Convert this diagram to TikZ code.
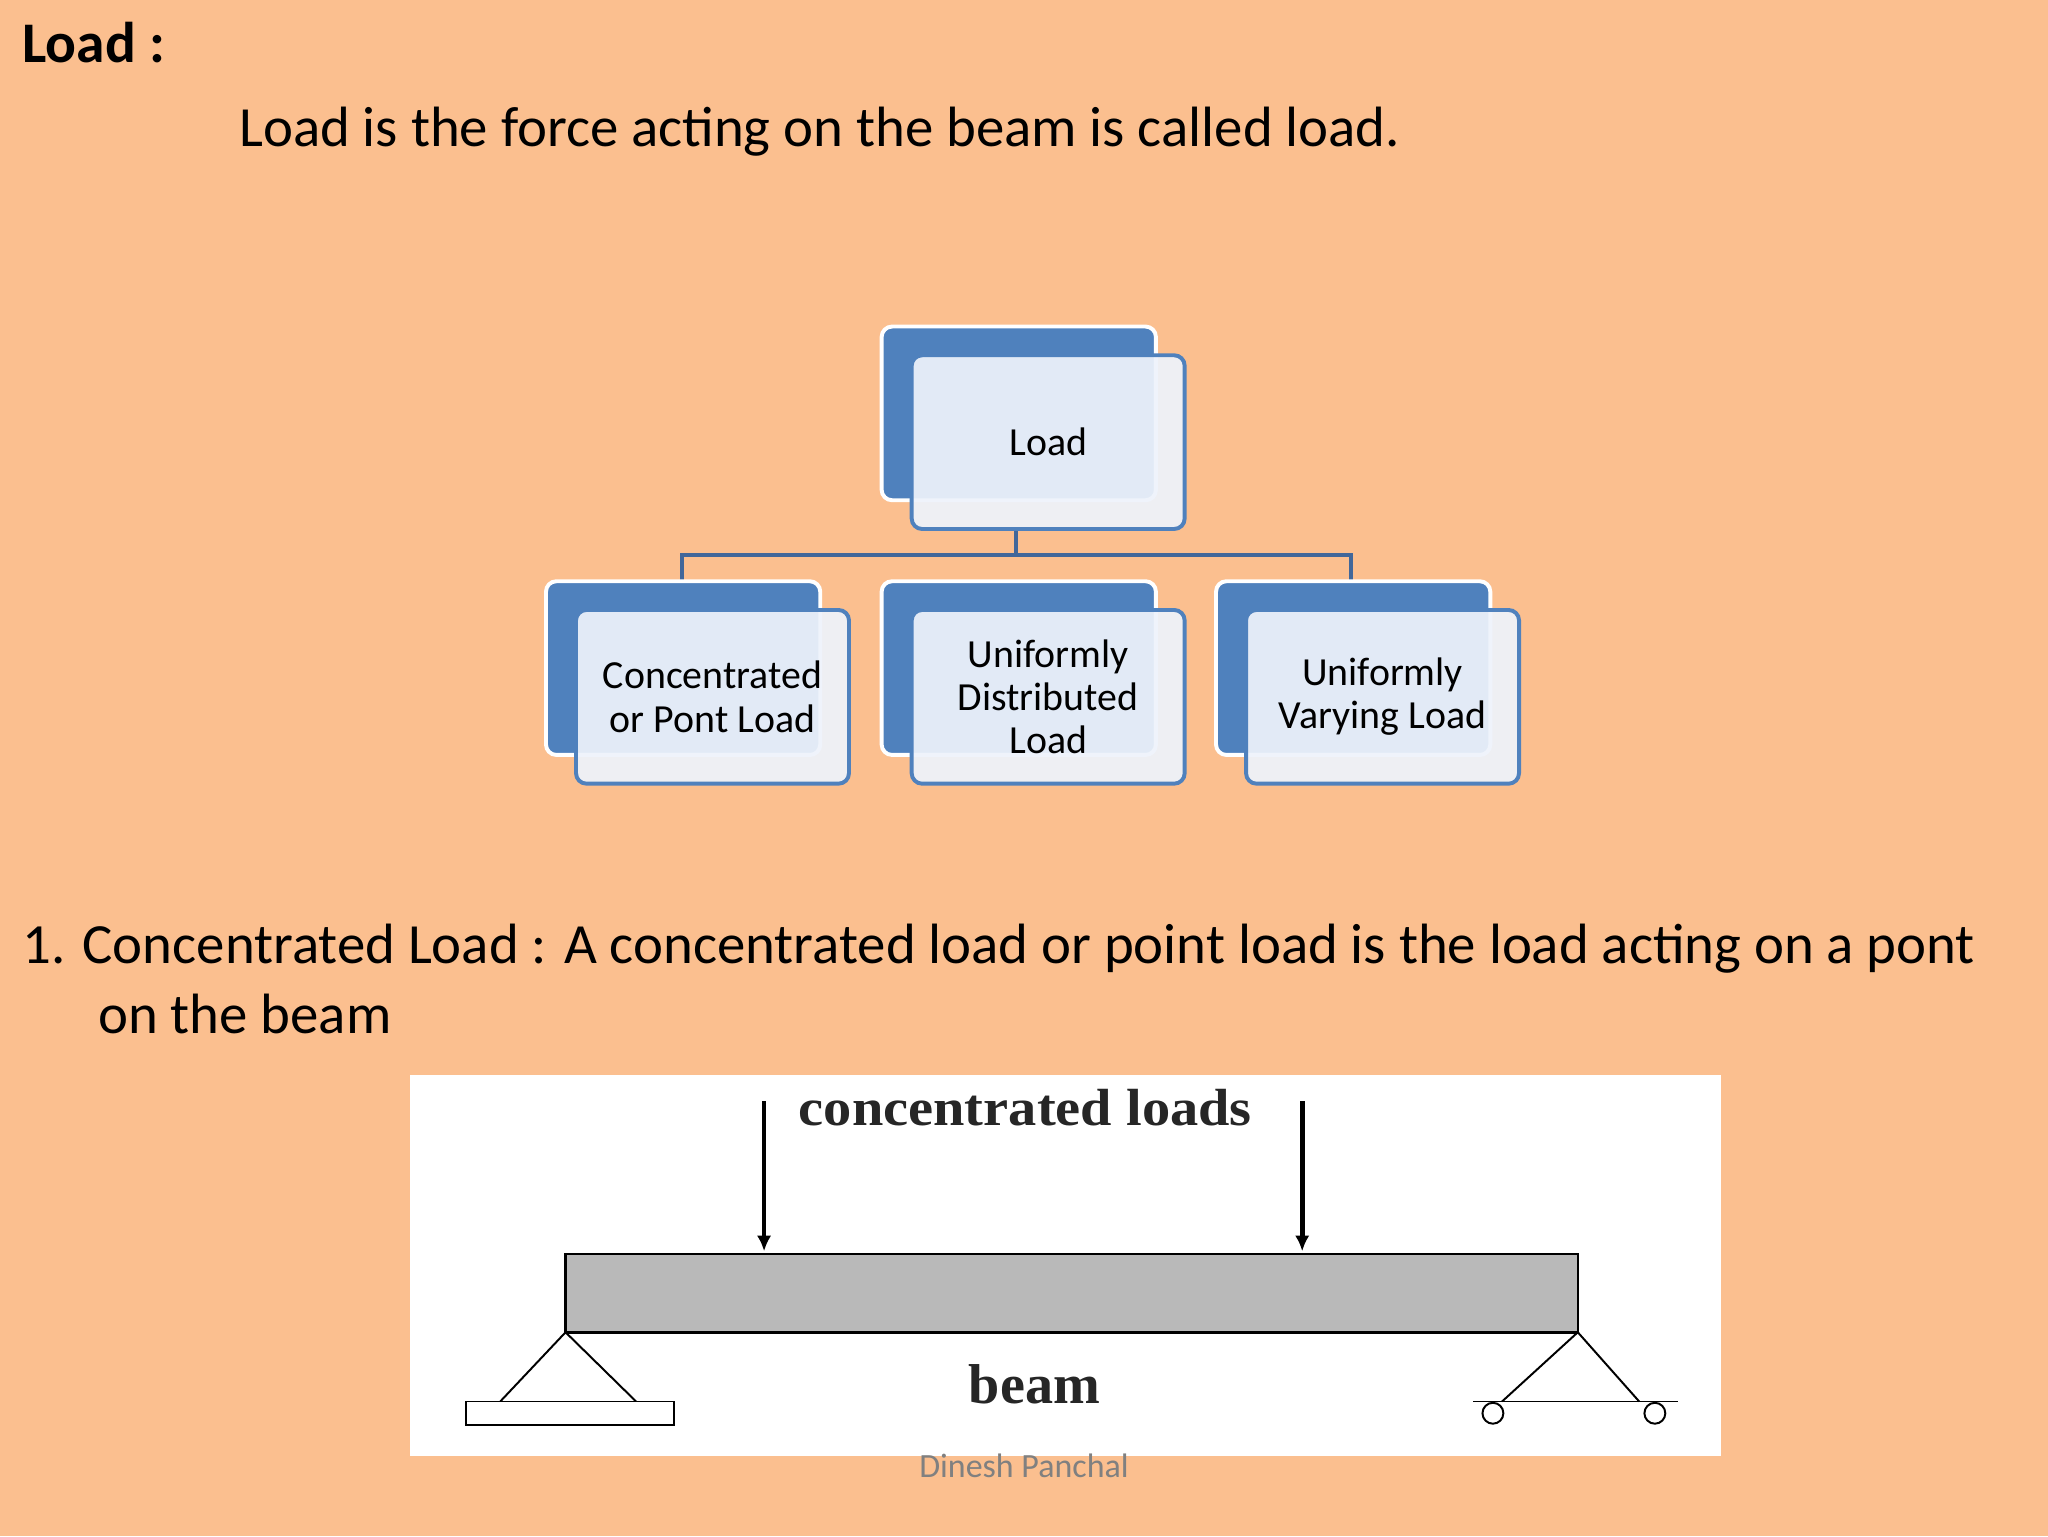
\documentclass[tikz,border=0pt]{standalone}
\usepackage{fontspec}
\setmainfont{Carlito}
\newfontfamily\serifb{Liberation Serif}
\usetikzlibrary{arrows.meta}
\begin{document}
\begin{tikzpicture}[x=1pt,y=-1pt,
  back/.style={fill=blue1,draw=white,line width=3pt,rounded corners=8pt},
  front/.style={fill=boxfill,fill opacity=0.93,draw=blue1,line width=3pt,rounded corners=8pt,text opacity=1,align=center,font=\fontsize{30.5}{33}\selectfont},
  conn/.style={draw=blue2,line width=3pt},
  body/.style={anchor=base west,font=\fontsize{43.5}{48}\selectfont,inner sep=0},
  arr/.style={line width=3.5pt,-{Latex[length=12pt,width=11pt]}}]
\definecolor{bg}{HTML}{FBBF8F}
\definecolor{blue1}{HTML}{4F81BD}
\definecolor{blue2}{HTML}{41679A}
\definecolor{boxfill}{HTML}{EEF3FB}
\fill[bg] (0,0) rectangle (1568,1176);
\useasboundingbox (0,0) rectangle (1568,1176);
\node[anchor=base west,inner sep=0,font=\fontsize{44}{48}\selectfont\bfseries] (t) at (17,48) {Load :};
\node[body] (d) at (183,112) {Load is the force acting on the beam is called load.};
% connectors
\coordinate (j) at (778,425);
\draw[conn] (778,405) -- (j);
\draw[conn] (522,445) -- (522,425) -- (1034,425) -- (1034,445);
% boxes
\foreach \x/\y/\n/\t in {675/250/r/Load,418/445/a/{Concentrated\\or Pont Load},675/445/b/{Uniformly\\Distributed\\Load},931/445/c/{Uniformly\\Varying Load}}{
  \draw[back] (\x,\y) rectangle ++(210,133);
  \node[front,minimum width=209pt,minimum height=133pt,inner sep=0] (\n) at (\x+23+104.5,\y+22+66.5) {\t};
}
\node[body] (c1) at (17,738) {1. Concentrated Load : A concentrated load or point load is the load acting on a pont};
\node[body] (c2) at (75,791) {on the beam};
% beam figure
\fill[white] (314,823) rectangle (1318,1115);
\draw[fill=gray!55,line width=2pt] (433,960) rectangle (1208,1020);
\draw[arr] (585,843) -- (585,958);
\draw[arr] (997,843) -- (997,958);
\node[font=\serifb\bfseries\fontsize{40}{44}\selectfont,text=black!85,xscale=1.08] (cl) at (785,848) {concentrated loads};
\node[font=\serifb\bfseries\fontsize{43}{46}\selectfont,text=black!85] (bm) at (792,1060) {beam};
\draw[line width=1.5pt] (383,1073) -- (433,1020) -- (487,1073);
\draw[line width=1.5pt,fill=white] (357,1073) rectangle (516,1091);
\draw[line width=1.5pt] (1150,1073) -- (1208,1020) -- (1255,1073);
\draw[line width=1.5pt] (1128,1073) -- (1285,1073);
\draw[line width=1.5pt,fill=white] (1143,1082) circle (8);
\draw[line width=1.5pt,fill=white] (1267,1082) circle (8);
\node[text=gray,font=\fontsize{26}{28}\selectfont] (f) at (784,1122) {Dinesh Panchal};
\end{tikzpicture}
\end{document}
